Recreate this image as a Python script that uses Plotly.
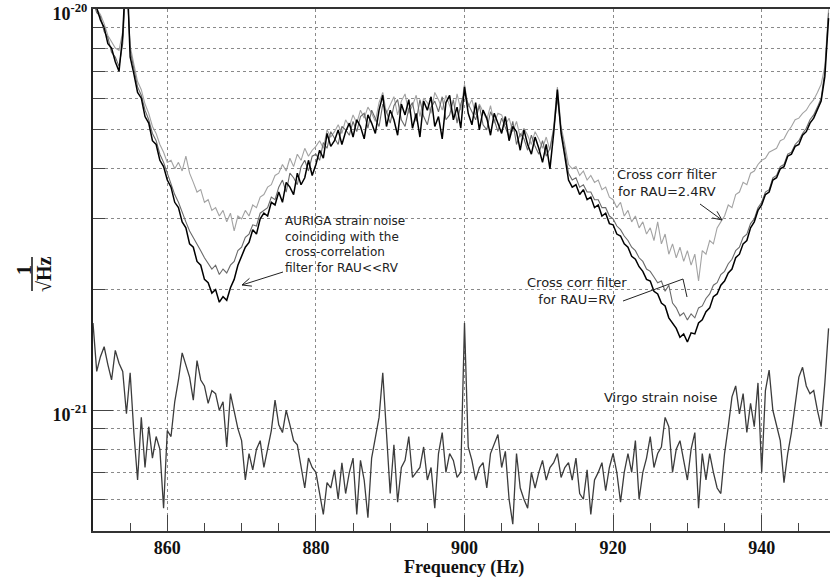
import math
import numpy as np
import plotly.graph_objects as go

# Frequency grid (Hz), 0.5 Hz steps
freq = np.round(np.arange(850.0, 949.01, 0.5), 1)

# Values in units of 1e-21 (1/sqrt(Hz))
auriga = [
    10.8, 10.1, 9.4, 9.0, 8.2, 8.0, 7.4, 7.0, 8.6, 13.5,
    7.6, 6.9, 6.2, 6.0, 5.4, 5.2, 4.7, 4.6, 4.2, 4.05,
    3.75, 3.6, 3.3, 3.2, 2.95, 2.85, 2.6, 2.55, 2.35, 2.3,
    2.12, 2.08, 1.96, 2.0, 1.86, 1.92, 1.88, 2.02, 2.12, 2.3,
    2.42, 2.55, 2.62, 2.82, 2.75, 3.0, 3.1, 3.05, 3.3, 3.25,
    3.5, 3.3, 3.7, 3.6, 3.45, 3.9, 3.65, 3.8, 4.2, 3.85,
    4.1, 4.45, 4.25, 4.9, 4.55, 4.7, 5.0, 4.6, 4.95, 5.2,
    4.8, 5.3, 5.1, 4.75, 5.45, 5.2, 4.9, 5.6, 6.1, 5.1,
    5.6, 5.3, 4.85, 5.8, 5.45, 5.95, 5.05, 5.5, 4.8, 5.9,
    5.6, 6.05, 5.1, 5.4, 4.75, 5.85, 6.1, 5.3, 5.7, 5.05,
    6.4, 5.5, 5.15, 5.85, 5.0, 5.6, 5.35, 4.85, 5.5, 5.2,
    4.9, 5.4, 4.7, 5.1, 4.95, 4.45, 5.0, 4.6, 4.35, 4.8,
    4.5, 4.15, 4.6, 4.0, 4.9, 6.3, 4.9, 4.3, 3.75, 3.6,
    3.65, 3.45, 3.55, 3.35, 3.4, 3.2, 3.25, 3.05, 3.1, 2.92,
    2.9, 2.75, 2.72, 2.6, 2.55, 2.42, 2.38, 2.28, 2.22, 2.12,
    2.1, 1.98, 1.95, 1.85, 1.82, 1.7, 1.65, 1.6, 1.52, 1.55,
    1.48, 1.56, 1.55, 1.65, 1.68, 1.76, 1.8, 1.92, 1.95, 2.05,
    2.1, 2.2, 2.25, 2.4, 2.45, 2.6, 2.65, 2.85, 2.95, 3.15,
    3.25, 3.45, 3.5, 3.75, 3.8, 4.0, 4.05, 4.3, 4.35, 4.55,
    4.6, 4.85, 4.95, 5.2, 5.35, 5.6, 5.9, 6.8, 9.5,
]

rau_rv = [
    10.5, 9.8, 9.6, 8.8, 8.5, 7.8, 7.6, 7.2, 8.2, 12.5,
    7.9, 7.1, 6.4, 6.1, 5.6, 5.3, 4.9, 4.7, 4.35, 4.15,
    3.9, 3.7, 3.45, 3.3, 3.1, 2.95, 2.8, 2.7, 2.6, 2.5,
    2.4, 2.32, 2.25, 2.3, 2.18, 2.25, 2.2, 2.3, 2.35, 2.5,
    2.55, 2.7, 2.75, 2.9, 2.88, 3.1, 3.15, 3.2, 3.4, 3.35,
    3.6, 3.75, 3.5, 3.9, 3.8, 3.65, 4.05, 4.2, 3.95, 4.3,
    4.35, 4.2, 4.65, 4.5, 4.95, 4.75, 4.6, 5.1, 5.0, 4.85,
    5.25, 4.95, 5.4, 5.5, 5.05, 5.6, 5.35, 5.1, 5.8, 5.55,
    5.2, 5.75, 5.95, 5.3, 5.1, 5.65, 5.85, 5.25, 5.95, 5.4,
    5.15, 5.7, 5.9, 5.55, 6.05, 5.3, 5.45, 5.95, 5.2, 5.8,
    6.2, 5.8, 5.55, 5.3, 5.75, 5.15, 5.0, 5.55, 5.3, 4.95,
    5.35, 5.05, 4.8, 5.25, 4.6, 4.9, 4.75, 4.45, 4.85, 4.55,
    4.35, 4.7, 4.3, 4.5, 5.0, 6.0, 5.0, 4.45, 3.9, 3.75,
    3.8, 3.6, 3.65, 3.5, 3.5, 3.35, 3.35, 3.2, 3.2, 3.05,
    3.0, 2.88, 2.82, 2.72, 2.65, 2.55, 2.5, 2.4, 2.35, 2.25,
    2.22, 2.15, 2.08, 2.1, 1.98, 2.05, 1.85, 1.8, 1.72, 1.75,
    1.68, 1.74, 1.7, 1.8, 1.82, 1.9, 1.95, 2.05, 2.08, 2.18,
    2.22, 2.32, 2.38, 2.5, 2.55, 2.7, 2.75, 2.92, 3.0, 3.2,
    3.3, 3.5, 3.55, 3.8, 3.85, 4.05, 4.1, 4.35, 4.4, 4.6,
    4.7, 4.9, 5.05, 5.3, 5.45, 5.7, 6.0, 7.0, 9.8,
]

rau_24rv = [
    10.6, 10.0, 9.7, 9.2, 8.6, 8.3, 8.0, 7.9, 8.8, 12.0,
    8.1, 7.3, 6.6, 6.3, 5.8, 5.5, 5.1, 4.9, 4.6, 4.4,
    4.15, 4.2, 4.0, 4.15, 3.95, 4.3, 3.9, 3.7, 3.5, 3.55,
    3.3, 3.35, 3.15, 3.2, 3.05, 3.15, 2.95, 3.1, 2.8, 3.05,
    3.0, 3.15, 3.05, 3.25, 3.2, 3.4, 3.45, 3.6, 3.65, 3.85,
    3.9, 4.1, 3.95, 4.25, 4.05, 4.35, 4.2, 4.5, 4.3, 4.45,
    4.55, 4.7, 4.5, 5.0, 4.8, 4.95, 5.15, 4.9, 5.3, 5.1,
    5.45, 5.2, 5.6, 5.35, 5.7, 5.5, 5.25, 5.85, 6.2, 5.5,
    5.8, 6.05, 5.45, 5.9, 6.15, 5.5, 5.75, 6.1, 5.4, 6.0,
    5.85, 5.5, 6.2, 5.95, 5.6, 6.1, 5.75, 5.4, 6.15, 5.6,
    6.5, 5.7, 5.95, 5.45, 5.8, 5.55, 5.3, 5.75, 5.2, 5.5,
    5.45, 5.15, 5.35, 4.95, 5.25, 4.8, 5.05, 4.85, 4.6, 4.95,
    4.75, 4.5, 4.8, 4.45, 5.1, 6.4, 5.1, 4.6, 4.1, 4.0,
    4.05, 3.85, 3.95, 3.75, 3.85, 3.7, 3.75, 3.55, 3.6, 3.4,
    3.35, 3.2, 3.3, 3.05, 3.15, 2.95, 3.05, 2.85, 2.95, 2.75,
    2.85, 2.65, 2.95, 2.6, 2.75, 2.45, 2.6, 2.4, 2.55, 2.35,
    2.5, 2.3, 2.45, 2.1, 2.5, 2.45, 2.65, 2.6, 2.85, 2.95,
    3.05, 3.25, 3.2, 3.45, 3.5, 3.7, 3.65, 3.9, 3.95, 4.1,
    4.2, 4.25, 4.4, 4.45, 4.5, 4.7, 4.75, 4.95, 5.1, 5.3,
    5.35, 5.5, 5.6, 5.8, 5.95, 6.2, 6.5, 7.2, 10.0,
]

virgo = [
    1.65, 1.25, 1.36, 1.44, 1.3, 1.19, 1.41, 1.31, 1.25, 0.98,
    1.24, 0.88, 0.67, 0.96, 0.72, 0.91, 0.76, 0.86, 0.8, 0.57,
    0.89, 0.86, 1.05, 1.19, 1.39, 1.3, 1.21, 1.06, 1.33, 1.19,
    1.15, 1.04, 1.12, 1.1, 1.0, 1.05, 0.81, 1.1, 1.0, 0.9,
    0.84, 0.67, 0.78, 0.71, 0.8, 0.84, 0.72, 0.8, 0.89, 1.06,
    0.92, 0.88, 1.0, 0.92, 0.84, 0.82, 0.72, 0.64, 0.76, 0.72,
    0.7, 0.62, 0.55, 0.66, 0.64, 0.71, 0.6, 0.74, 0.62, 0.7,
    0.76, 0.55, 0.75, 0.67, 0.54, 0.76, 0.86, 0.96, 1.24, 0.85,
    0.62, 0.82, 0.59, 0.72, 0.75, 0.86, 0.68, 0.7, 0.72, 0.81,
    0.67, 0.72, 0.57, 0.78, 0.88, 0.7, 0.78, 0.75, 0.68, 0.7,
    1.65, 0.81, 0.75, 0.67, 0.72, 0.74, 0.64, 0.78, 0.82, 0.87,
    0.72, 0.79, 0.6, 0.52, 0.78, 0.64, 0.6, 0.57, 0.7, 0.64,
    0.7, 0.75, 0.67, 0.72, 0.74, 0.78, 0.68, 0.72, 0.74, 0.67,
    0.76, 0.62, 0.6, 0.71, 0.55, 0.67, 0.7, 0.74, 0.63, 0.72,
    0.78, 0.7, 0.59, 0.7, 0.78, 0.7, 0.84, 0.6, 0.7, 0.76,
    0.86, 0.72, 0.78, 0.81, 0.96, 0.91, 0.7, 0.8, 0.84, 0.75,
    0.67, 0.8, 0.88, 0.57, 0.78, 0.67, 0.78, 0.7, 0.64, 0.62,
    0.78, 0.91, 1.08, 1.15, 0.98, 1.1, 0.88, 1.04, 0.91, 1.17,
    0.7, 1.12, 1.26, 1.0, 0.92, 0.84, 0.66, 0.78, 0.88, 1.04,
    1.21, 1.28, 1.15, 1.1, 1.12, 1.0, 0.91, 1.17, 1.6,
]

UNIT = 1e-21
x_major = [860, 880, 900, 920, 940]
x_minor = [855, 865, 870, 875, 885, 890, 895, 905, 910, 915, 925, 930, 935, 945]
y_major = [1e-21, 1e-20]
y_major_text = ["<b>10<sup>-21</sup></b>", "<b>10<sup>-20</sup></b>"]
y_minor = [6e-22, 7e-22, 8e-22, 9e-22, 2e-21, 3e-21, 4e-21, 5e-21, 6e-21, 7e-21, 8e-21, 9e-21]

W, H = 830, 583
ML, MR, MT, MB = 93, 0, 9, 52
PW, PH = W - ML - MR, H - MT - MB


def X(px):
    return (px - ML) / PW


def Y(py):
    return (H - MB - py) / PH


def seg(x0, y0, x1, y1, color="#222", width=1):
    return dict(type="line", xref="paper", yref="paper", x0=X(x0), y0=Y(y0),
                x1=X(x1), y1=Y(y1), line=dict(color=color, width=width), layer="above")


def arrow(tail, head, color="#222"):
    (x0, y0), (x1, y1) = tail, head
    dx, dy = x1 - x0, y1 - y0
    L = math.hypot(dx, dy)
    ux, uy = -dx / L, -dy / L
    out = [seg(x0, y0, x1, y1, color)]
    for a in (0.42, -0.42):
        rx = ux * math.cos(a) - uy * math.sin(a)
        ry = ux * math.sin(a) + uy * math.cos(a)
        out.append(seg(x1, y1, x1 + 10 * rx, y1 + 10 * ry, color))
    return out


fig = go.Figure()
series = [
    (rau_24rv, "#a3a3a3", 1.1, "Cross corr filter for RAU=2.4RV"),
    (rau_rv, "#6a6a6a", 1.1, "Cross corr filter for RAU=RV"),
    (virgo, "#3c3c3c", 1.3, "Virgo strain noise"),
    (auriga, "#000000", 1.5, "AURIGA strain noise"),
]
for vals, col, w, name in series:
    assert len(vals) == len(freq)
    fig.add_trace(go.Scatter(x=freq, y=np.array(vals) * UNIT, mode="lines",
                             line=dict(color=col, width=w), name=name,
                             showlegend=False))

grid = dict(gridcolor="#8a8a8a", griddash="dot", gridwidth=1)
tickfont = dict(family="Liberation Serif", size=18, color="#111", weight="bold")

fig.update_xaxes(
    range=[850, 850 + PW / 7.43], tickvals=x_major,
    ticktext=[f"<b>{v}</b>" for v in x_major], tickfont=tickfont,
    ticks="inside", ticklen=16, tickcolor="#444", tickwidth=1,
    showgrid=True, **grid, zeroline=False, automargin=False,
    showline=True, linecolor="#333", linewidth=1.5, mirror=True,
    minor=dict(tickvals=x_minor, ticks="inside", ticklen=8, tickcolor="#444", showgrid=False),
)
fig.update_yaxes(
    type="log", range=[math.log10(5e-22), -19.9995], tickvals=y_major, ticktext=y_major_text,
    tickfont=tickfont, ticks="inside", ticklen=20, tickcolor="#444", tickwidth=1,
    showgrid=True, **grid, zeroline=False, automargin=False,
    ticklabeloverflow="allow", ticklabelshift=4,
    showline=True, linecolor="#222", linewidth=2,
    minor=dict(tickvals=y_minor, ticks="inside", ticklen=12, tickcolor="#444",
               showgrid=True, **grid),
)

sans = "DejaVu Sans"
ann = [
    dict(text="AURIGA strain noise<br>coinciding with the<br>cross-correlation<br>filter for RAU&lt;&lt;RV",
         x=X(283), y=Y(244), xanchor="left", yanchor="middle", align="left",
         font=dict(family=sans, size=12, color="#222")),
    dict(text="Cross corr filter<br>for RAU=2.4RV", x=X(667), y=Y(183),
         xanchor="center", yanchor="middle", align="center",
         font=dict(family=sans, size=13, color="#222")),
    dict(text="Cross corr filter<br>for RAU=RV", x=X(577), y=Y(291),
         xanchor="center", yanchor="middle", align="center",
         font=dict(family=sans, size=13, color="#222")),
    dict(text="Virgo strain noise", x=X(660), y=Y(397), xanchor="center", yanchor="middle",
         font=dict(family=sans, size=13, color="#222")),
    dict(text="<b>Frequency (Hz)</b>", x=X(464), y=Y(567), xanchor="center", yanchor="middle",
         font=dict(family="Liberation Serif", size=18, color="#111")),
    dict(text="<b>1</b>", x=X(24), y=Y(270), xanchor="center", yanchor="middle", textangle=-90,
         font=dict(family="Liberation Serif", size=20, color="#111")),
    dict(text="<b>√Hz</b>", x=X(44), y=Y(274), xanchor="center", yanchor="middle", textangle=-90,
         font=dict(family="Liberation Serif", size=20, color="#111")),
]
for a in ann:
    a.update(xref="paper", yref="paper", showarrow=False)

shapes = []
shapes += arrow((283, 272), (242, 285))
shapes += arrow((700, 204), (722, 220))
shapes.append(seg(623, 301, 683, 279))
shapes.append(seg(683, 279, 687, 297))
shapes.append(seg(32, 257, 32, 291, color="#111", width=1.5))

fig.update_layout(
    width=W, height=H, margin=dict(l=ML, r=MR, t=MT, b=MB),
    paper_bgcolor="white", plot_bgcolor="white",
    annotations=ann, shapes=shapes, showlegend=False,
)

fig.write_html("out.html", config={"displayModeBar": False},
               post_script="document.body.style.margin='0px';document.body.style.overflow='hidden';")
